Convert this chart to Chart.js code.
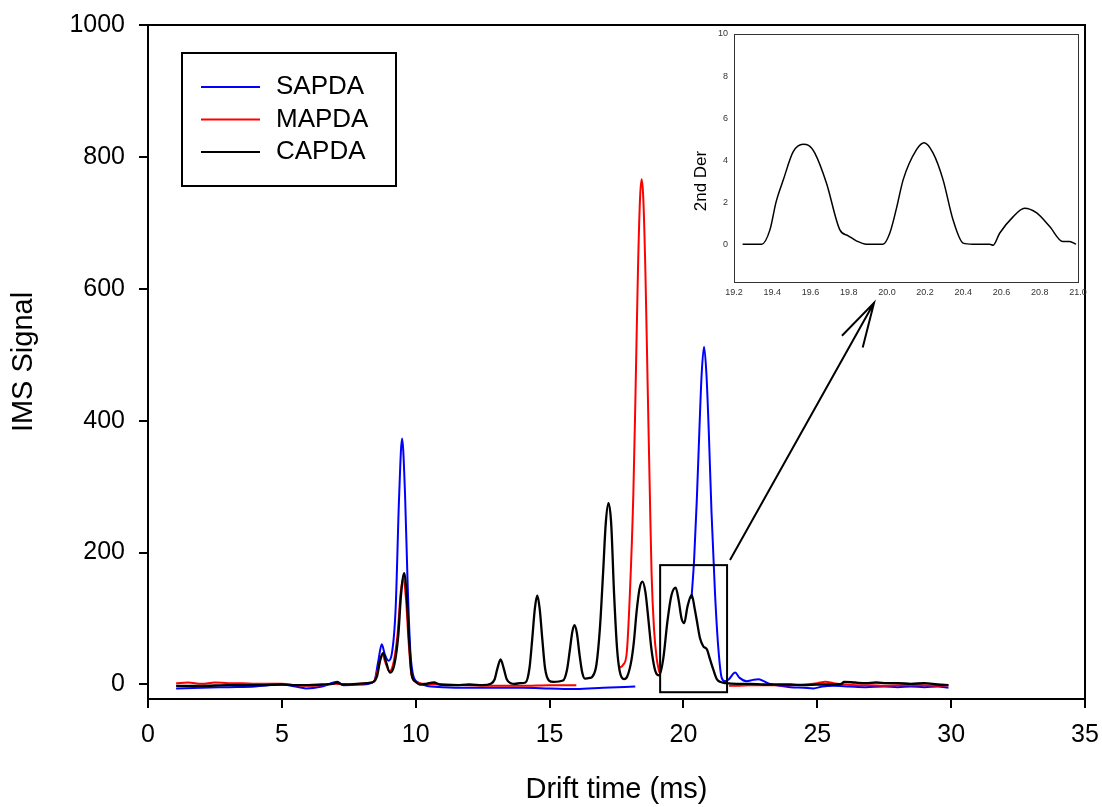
<!DOCTYPE html>
<html lang="en">
<head>
  <meta charset="UTF-8" />
  <title>IMS Signal vs Drift time</title>
  <script src="https://cdn.jsdelivr.net/npm/chart.js"></script>
  <style>
    body { margin: 0; background: #fff; }
    .wrap { position: relative; width: 1102px; height: 807px; }
    #mainChart { position: absolute; left: 0; top: 0; }
    #insetChart { position: absolute; left: 680px; top: 24px; }
  </style>
</head>
<body>
  <div class="wrap">
    <canvas id="mainChart" width="1102" height="807"></canvas>
    <canvas id="insetChart" width="410" height="290"></canvas>
  </div>

  <script>
    // values (drift time in ms, IMS signal)
    const sapdaX = [1.05, 2, 3, 4, 5, 5.5, 5.9, 6.5, 7.07, 7.3, 8.0, 8.45, 8.6, 8.73, 8.85, 8.98, 9.1, 9.25, 9.38, 9.49, 9.6, 9.7, 9.8, 9.9, 10.1, 10.4, 11, 12, 13, 14, 15, 16, 17, 18.2,
      19.0,
      20.3, 20.4, 20.5, 20.6, 20.68, 20.77, 20.86, 20.95, 21.05, 21.18, 21.3, 21.43, 21.55, 21.7, 21.93, 22.1, 22.36, 22.6, 22.8, 23.0, 23.23, 23.6, 24.0, 24.5, 24.85, 25.2, 25.6, 26.2, 26.8, 27.5, 28, 28.5, 29, 29.5, 29.9];
    const sapdaY = [-6, -5, -4, -3, 0, -3, -6, -3, 4, -1, 0, 5, 35, 61, 45, 36, 45, 115, 285, 373, 290, 150, 50, 15, 3, -2, -4, -5, -5, -5, -6, -7, -5, -3,
      null,
      130, 190, 280, 390, 470, 512, 470, 380, 260, 138, 57, 10, 5, 8, 18, 10, 5, 7, 8, 5, 1, -2, -4, -5, -6, -3, -2, -3, -4, -3, -4, -3, -4, -3, -5];

    const mapdaX = [1.05, 1.5, 2, 2.5, 3, 3.5, 4, 4.5, 5, 5.5, 6, 6.5, 7, 7.5, 8, 8.3, 8.45, 8.6, 8.75, 8.88, 9.02, 9.18, 9.33, 9.44, 9.53, 9.64, 9.73, 9.84, 10.0, 10.3, 11, 12, 13, 14, 15, 16,
      16.8,
      17.6, 17.75, 17.88, 18.0, 18.13, 18.21, 18.3, 18.38, 18.44, 18.5, 18.58, 18.67, 18.75, 18.81, 18.9, 19.0, 19.1,
      20.0,
      21.7, 22, 22.5, 23, 23.5, 24, 24.5, 25, 25.3, 25.6, 26, 26.5, 27, 27.5, 28, 28.5, 29, 29.5, 29.9];
    const mapdaY = [2, 3, 1, 3, 2, 2, 1, 1, 1, -1, -2, -1, 1, 0, 1, 3, 5, 25, 45, 32, 20, 35, 80, 140, 160, 128, 68, 15, 4, 1, 0, -1, -2, -2, -1, -1,
      null,
      25, 30, 47, 138, 290, 441, 625, 738, 766, 738, 625, 441, 280, 168, 85, 40, 18,
      null,
      -2, -2, -1, -1, -1, -1, 0, 2, 4, 2, 0, -1, -1, -2, -1, -1, -1, -2, -1];

    const capdaX = [1.05, 2, 3, 4, 5, 5.5, 6, 6.5, 6.9, 7.07, 7.25, 7.8, 8.2, 8.42, 8.55, 8.68, 8.79, 8.9, 9.04, 9.2, 9.35, 9.45, 9.57, 9.67, 9.75, 9.85, 10.0, 10.16, 10.4, 10.68, 10.9, 11.5, 12, 12.5,
      12.8, 12.95, 13.05, 13.17, 13.29, 13.4, 13.55, 13.7, 13.9,
      14.1, 14.25, 14.35, 14.45, 14.54, 14.63, 14.73, 14.83, 14.98, 15.14,
      15.5, 15.65, 15.75, 15.85, 15.93, 16.02, 16.12, 16.22, 16.32, 16.5,
      16.6, 16.75, 16.88, 17.0, 17.1, 17.2, 17.3, 17.41, 17.52, 17.62, 17.78,
      17.9, 18.05, 18.15, 18.25, 18.36, 18.47, 18.58, 18.7, 18.8, 18.92, 19.02, 19.1,
      19.25, 19.4, 19.55, 19.71, 19.82, 19.93, 20.03, 20.15, 20.31, 20.42, 20.5, 20.62, 20.74, 20.88, 20.98, 21.12, 21.25, 21.37, 21.6,
      22, 22.5, 23, 23.5, 24, 24.5, 25, 25.5, 25.9, 26.0, 26.4, 26.8, 27.2, 27.6, 28, 28.5, 29, 29.5, 29.9];
    const capdaY = [-2, -2, -1, -1, 0, -1, -1, 0, 1, 3, 0, 1, 2, 4, 12, 38, 48, 33, 18, 30, 75, 135, 169, 130, 70, 15, 4, 0, 1, 3, 0, -1, 0, -1,
      1, 8, 24, 38, 24, 8, 2, 1, 2,
      3, 25, 68, 115, 135, 115, 68, 25, 6, 4,
      6, 22, 50, 80, 90, 78, 45, 18, 9, 10,
      12, 30, 85, 170, 245, 275, 245, 137, 55, 20, 8,
      12, 35, 65, 110, 145, 156, 140, 95, 55, 25, 15, 14,
      40, 95, 135, 147, 128, 100, 93, 118, 136, 115, 97, 70, 58, 53, 40, 22, 8, 4, 2,
      1, 1, 0, 0, 0, -1, 0, 0, 1, 4, 3, 2, 3, 2, 2, 1, 2, 0, -1];

    const xTicks = [0, 5, 10, 15, 20, 25, 30, 35];
    const yTicks = [0, 200, 400, 600, 800, 1000];

    // zoomed window, second derivative of the CAPDA trace
    const derX = [19.245, 19.3, 19.345, 19.388, 19.42, 19.458, 19.51, 19.562, 19.59, 19.623, 19.684, 19.754, 19.798, 19.84, 19.893, 19.98,
      20.015, 20.05, 20.085, 20.155, 20.195, 20.242, 20.294, 20.346, 20.399, 20.45, 20.538, 20.556,
      20.59, 20.66, 20.72, 20.782, 20.852, 20.92, 20.956, 20.99];
    const derY = [0, 0, 0, 0.68, 2.0, 3.06, 4.4, 4.75, 4.7, 4.33, 2.9, 0.68, 0.4, 0.16, 0, 0,
      0.52, 1.7, 3.06, 4.5, 4.83, 4.33, 3.06, 1.16, 0.05, 0, 0, -0.05,
      0.52, 1.3, 1.71, 1.5, 0.84, 0.13, 0.13, 0];
    const derXTicks = [19.2, 19.4, 19.6, 19.8, 20.0, 20.2, 20.4, 20.6, 20.8, 21.0];
    const derYTicks = [0, 2, 4, 6, 8, 10];

    // zoom box and arrow, in data units of the main chart
    const zoomBoxX = [19.13, 21.63];
    const zoomBoxY = [-11.7, 181];
    const arrowFrom = [21.74, 188.8];
    const arrowTo = [27.12, 578.7];

    const FONT = "'Liberation Sans', Arial, Helvetica, sans-serif";

    function pts(xs, ys) {
      return xs.map((x, i) => ({ x: x, y: ys[i] }));
    }

    const mainFrame = {
      id: 'mainFrame',
      afterDatasetsDraw(chart) {
        const { ctx, chartArea: a, scales: { x, y } } = chart;
        ctx.save();
        ctx.strokeStyle = '#000';
        ctx.lineWidth = 2;
        ctx.strokeRect(a.left, a.top, a.right - a.left, a.bottom - a.top);

        // box around the overlapping peaks
        const bx0 = x.getPixelForValue(zoomBoxX[0]), bx1 = x.getPixelForValue(zoomBoxX[1]);
        const by0 = y.getPixelForValue(zoomBoxY[0]), by1 = y.getPixelForValue(zoomBoxY[1]);
        ctx.strokeRect(bx0, by1, bx1 - bx0, by0 - by1);

        // arrow to the inset
        const ax0 = x.getPixelForValue(arrowFrom[0]), ay0 = y.getPixelForValue(arrowFrom[1]);
        const ax1 = x.getPixelForValue(arrowTo[0]), ay1 = y.getPixelForValue(arrowTo[1]);
        ctx.beginPath();
        ctx.moveTo(ax0, ay0);
        ctx.lineTo(ax1, ay1);
        const ang = Math.atan2(ay0 - ay1, ax0 - ax1);
        const head = 46, spread = 15 * Math.PI / 180;
        ctx.moveTo(ax1 + head * Math.cos(ang + spread), ay1 + head * Math.sin(ang + spread));
        ctx.lineTo(ax1, ay1);
        ctx.lineTo(ax1 + head * Math.cos(ang - spread), ay1 + head * Math.sin(ang - spread));
        ctx.stroke();
        ctx.restore();
      },
      afterDraw(chart) {
        // legend box, top left inside the plot
        const ctx = chart.ctx;
        ctx.save();
        ctx.strokeStyle = '#000';
        ctx.lineWidth = 2;
        ctx.strokeRect(182, 53, 214, 133);
        ctx.font = '26px ' + FONT;
        ctx.textBaseline = 'middle';
        ctx.textAlign = 'left';
        chart.data.datasets.forEach((ds, i) => {
          const yy = 87 + i * 32.5;
          ctx.strokeStyle = ds.borderColor;
          ctx.lineWidth = 2;
          ctx.beginPath();
          ctx.moveTo(201, yy);
          ctx.lineTo(260, yy);
          ctx.stroke();
          ctx.fillStyle = '#000';
          ctx.fillText(ds.label, 276, yy);
        });
        ctx.restore();
      }
    };

    const lineStyle = {
      showLine: true,
      pointRadius: 0,
      borderWidth: 2,
      fill: false,
      spanGaps: false,
      cubicInterpolationMode: 'monotone'
    };

    new Chart(document.getElementById('mainChart'), {
      type: 'line',
      data: {
        datasets: [
          Object.assign({ label: 'SAPDA', data: pts(sapdaX, sapdaY), borderColor: '#0000ff', order: 3 }, lineStyle),
          Object.assign({ label: 'MAPDA', data: pts(mapdaX, mapdaY), borderColor: '#ff0000', order: 2 }, lineStyle),
          Object.assign({ label: 'CAPDA', data: pts(capdaX, capdaY), borderColor: '#000000', order: 1, borderWidth: 2.3 }, Object.assign({}, lineStyle, { borderWidth: 2.3 }))
        ]
      },
      options: {
        responsive: false,
        animation: false,
        devicePixelRatio: 1,
        layout: { padding: { top: 25, right: 17, left: 0, bottom: 0 } },
        plugins: { legend: { display: false }, tooltip: { enabled: false } },
        scales: {
          x: {
            type: 'linear',
            min: 0,
            max: 35,
            afterBuildTicks: s => { s.ticks = xTicks.map(v => ({ value: v })); },
            afterFit: s => { s.height = 108; s.paddingLeft = 0; s.paddingRight = 0; },
            border: { display: false },
            grid: { drawOnChartArea: false, drawTicks: true, tickLength: 9, color: '#000', lineWidth: 2 },
            ticks: { color: '#000', font: { size: 25, family: FONT }, padding: 12, maxRotation: 0, callback: v => String(v) },
            title: { display: true, text: 'Drift time (ms)', color: '#000', font: { size: 29, family: FONT }, padding: { top: 0, bottom: 0 } }
          },
          y: {
            type: 'linear',
            min: -22,
            max: 1000,
            afterBuildTicks: s => { s.ticks = yTicks.map(v => ({ value: v })); },
            afterFit: s => { s.width = 148; s.paddingTop = 0; s.paddingBottom = 0; },
            border: { display: false },
            grid: { drawOnChartArea: false, drawTicks: true, tickLength: 9, color: '#000', lineWidth: 2 },
            ticks: { color: '#000', font: { size: 25, family: FONT }, padding: 14, callback: v => String(v) },
            title: { display: true, text: 'IMS Signal', color: '#000', font: { size: 29, family: FONT }, padding: { top: 7, bottom: 0 } }
          }
        }
      },
      plugins: [mainFrame]
    });

    const insetFrame = {
      id: 'insetFrame',
      afterDraw(chart) {
        const { ctx, chartArea: a } = chart;
        ctx.save();
        ctx.strokeStyle = '#333';
        ctx.lineWidth = 1;
        ctx.strokeRect(a.left + 0.5, a.top + 0.5, a.right - a.left, a.bottom - a.top);
        ctx.translate(21, 157);
        ctx.rotate(-Math.PI / 2);
        ctx.fillStyle = '#000';
        ctx.font = '17px ' + FONT;
        ctx.textAlign = 'center';
        ctx.textBaseline = 'middle';
        ctx.fillText('2nd Der', 0, 0);
        ctx.restore();
      }
    };

    new Chart(document.getElementById('insetChart'), {
      type: 'line',
      data: {
        datasets: [{
          label: '2nd Der',
          data: pts(derX, derY),
          borderColor: '#000',
          borderWidth: 1.5,
          pointRadius: 0,
          fill: false,
          cubicInterpolationMode: 'monotone'
        }]
      },
      options: {
        responsive: false,
        animation: false,
        devicePixelRatio: 1,
        layout: { padding: { top: 10, right: 12, left: 0, bottom: 0 } },
        plugins: { legend: { display: false }, tooltip: { enabled: false } },
        scales: {
          x: {
            type: 'linear',
            min: 19.2,
            max: 21.0,
            afterBuildTicks: s => { s.ticks = derXTicks.map(v => ({ value: v })); },
            afterFit: s => { s.height = 32; s.paddingLeft = 0; s.paddingRight = 0; },
            border: { display: false },
            grid: { display: false, drawTicks: false },
            ticks: { color: '#333', font: { size: 9, family: FONT }, padding: 5, maxRotation: 0, callback: v => v.toFixed(1) }
          },
          y: {
            type: 'linear',
            min: -1.8,
            max: 10,
            afterBuildTicks: s => { s.ticks = derYTicks.map(v => ({ value: v })); },
            afterFit: s => { s.width = 54; s.paddingTop = 0; s.paddingBottom = 0; },
            border: { display: false },
            grid: { display: false, drawTicks: false },
            ticks: { color: '#333', font: { size: 9, family: FONT }, padding: 6, callback: v => String(v) }
          }
        }
      },
      plugins: [insetFrame]
    });
  </script>
</body>
</html>
